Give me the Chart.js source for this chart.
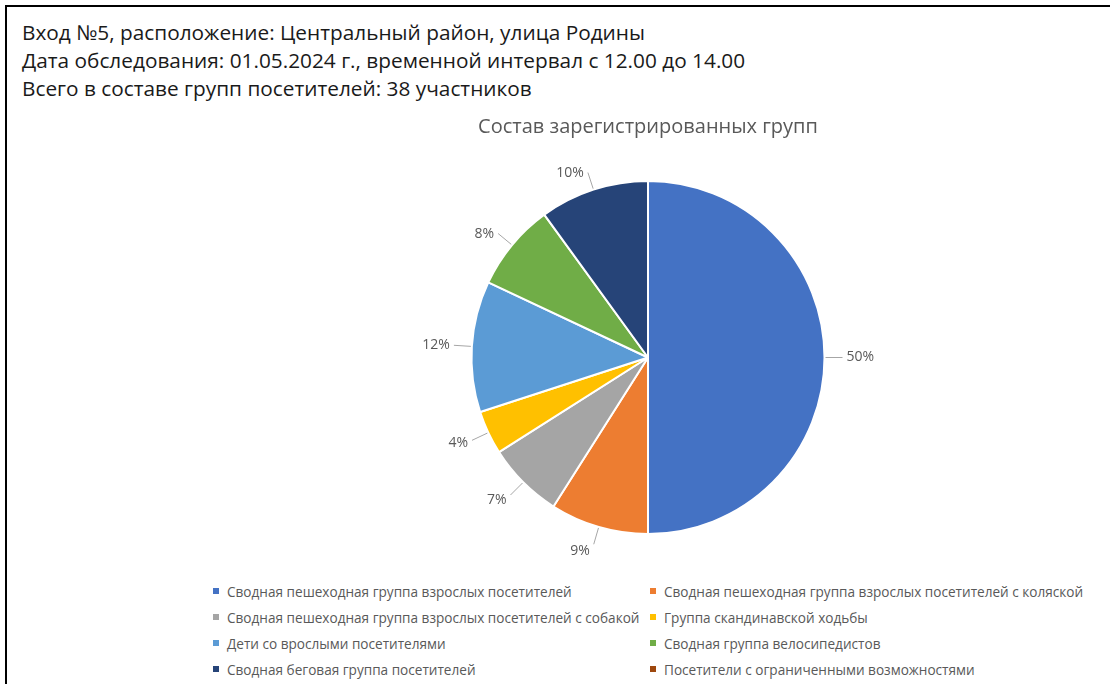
<!DOCTYPE html>
<html>
<head>
<meta charset="utf-8">
<script src="https://cdn.jsdelivr.net/npm/chart.js@4.4.0/dist/chart.umd.min.js"></script>
<style>
  body { margin: 0; background: #fff; width: 1110px; height: 684px; overflow: hidden; position: relative; font-family: "Open Sans", sans-serif; }
  .frame { position: absolute; left: 5px; top: 5px; right: -10px; bottom: -10px; border-left: 2px solid #000; border-top: 2px solid #000; }
  .head { position: absolute; left: 22px; top: 18px; font-size: 20.8px; line-height: 28px; color: #1a1a1a; white-space: nowrap; }
  #wrap { position: absolute; left: 188px; top: 105px; width: 920px; height: 470px; }
  #legend { position: absolute; left: 213px; top: 578px; display: grid; grid-template-columns: 437px auto; grid-auto-rows: 26px; font-size: 13.6px; color: #595959; }
  #legend div { display: flex; align-items: center; white-space: nowrap; }
  #legend span { display: inline-block; width: 6px; height: 6px; margin-right: 8px; }
</style>
</head>
<body>
<div class="frame"></div>
<div class="head">
  <div>Вход №5, расположение: Центральный район, улица Родины</div>
  <div>Дата обследования: 01.05.2024 г., временной интервал с 12.00 до 14.00</div>
  <div>Всего в составе групп посетителей: 38 участников</div>
</div>
<div id="wrap"><canvas id="pie"></canvas></div>
<div id="legend"></div>
<script>
const groups = [
  'Сводная пешеходная группа взрослых посетителей',
  'Сводная пешеходная группа взрослых посетителей с коляской',
  'Сводная пешеходная группа взрослых посетителей с собакой',
  'Группа скандинавской ходьбы',
  'Дети со врослыми посетителями',
  'Сводная группа велосипедистов',
  'Сводная беговая группа посетителей',
  'Посетители с ограниченными возможностями'
];
const shares = [50, 9, 7, 4, 12, 8, 10, 0];
const colors = ['#4472C4', '#ED7D31', '#A5A5A5', '#FFC000', '#5B9BD5', '#70AD47', '#264478', '#9E480E'];

// percentage labels outside the slices with short leader lines
const outerLabels = {
  id: 'outerLabels',
  afterDatasetsDraw(chart) {
    const ctx = chart.ctx;
    const values = chart.data.datasets[0].data;
    ctx.save();
    ctx.font = '14px "Open Sans"';
    ctx.fillStyle = '#595959';
    ctx.strokeStyle = '#a6a6a6';
    ctx.lineWidth = 1;
    ctx.textBaseline = 'middle';
    chart.getDatasetMeta(0).data.forEach((arc, i) => {
      const v = values[i];
      if (!v) return;
      const p = arc.getProps(['x', 'y', 'startAngle', 'endAngle', 'outerRadius'], true);
      const mid = (p.startAngle + p.endAngle) / 2;
      const cos = Math.cos(mid), sin = Math.sin(mid);
      const r1 = p.outerRadius + 1, r2 = p.outerRadius + 18;
      const ex = p.x + cos * r2, ey = p.y + sin * r2;
      ctx.beginPath();
      ctx.moveTo(p.x + cos * r1, p.y + sin * r1);
      ctx.lineTo(ex, ey);
      ctx.stroke();
      const right = cos >= 0;
      ctx.textAlign = right ? 'left' : 'right';
      ctx.fillText(v + '%', ex + (right ? 4 : -4), ey + Math.max(sin, 0) * 7);
    });
    ctx.restore();
  }
};

const chart = new Chart(document.getElementById('pie'), {
  type: 'pie',
  data: {
    labels: groups,
    datasets: [{
      data: shares,
      backgroundColor: colors,
      borderColor: '#fff',
      borderWidth: 2
    }]
  },
  options: {
    responsive: true,
    maintainAspectRatio: false,
    animation: false,
    layout: { padding: { bottom: 40 } },
    plugins: {
      legend: { display: false },
      tooltip: { enabled: false },
      title: {
        display: true,
        text: 'Состав зарегистрированных групп',
        color: '#595959',
        font: { family: '"Open Sans"', size: 20, weight: 'normal' },
        padding: { top: 10, bottom: 41 }
      }
    }
  },
  plugins: [outerLabels]
});

// two-column legend under the chart
const legendBox = document.getElementById('legend');
chart.options.plugins.legend.labels.generateLabels(chart).forEach(item => {
  const row = document.createElement('div');
  const mark = document.createElement('span');
  mark.style.background = item.fillStyle;
  row.appendChild(mark);
  row.appendChild(document.createTextNode(item.text));
  legendBox.appendChild(row);
});
</script>
</body>
</html>
